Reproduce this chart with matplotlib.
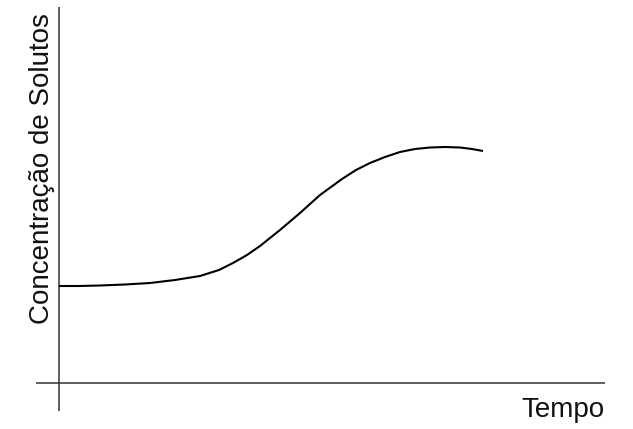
import numpy as np
import matplotlib
matplotlib.use('Agg')
import matplotlib.pyplot as plt

# dados (tempo e concentração em unidades arbitrárias)
tempo = [0, 20, 41, 66, 91, 116, 141, 160, 174, 188, 201, 221, 241, 261,
         283, 297, 311, 326, 341, 356, 371, 386, 401, 413, 424]
concentracao = [97, 97, 97.5, 98.5, 100, 103, 107, 113, 120, 128, 137, 153,
                170, 188, 204, 213, 220, 226, 231, 234, 235.5, 236, 235.5, 234, 232]

x_label = 'Tempo'
y_label = 'Concentração de Solutos'

W, H = 633, 429
fig = plt.figure(figsize=(W / 100, H / 100), dpi=100)
fig.patch.set_facecolor('white')

# eixo cobrindo a área dos traços dos eixos (em pixels: x 36..605, y 7..411)
ax = fig.add_axes([36 / W, 1 - 411 / H, (605 - 36) / W, (411 - 7) / H])
ax.set_xlim(-23, 546)
ax.set_ylim(-28, 376)
ax.axis('off')

ax.axhline(0, color='#333333', lw=1.1)
ax.axvline(0, color='#333333', lw=1.1)

ax.plot(tempo, concentracao, color='black', lw=1.5, solid_capstyle='butt',
        solid_joinstyle='round')

fig.text(605 / W, 1 - 417 / H, x_label, ha='right', va='baseline',
         fontsize=20, family=['Liberation Sans', 'DejaVu Sans'], color='#111111')
fig.text(49 / W, 1 - 169 / H, y_label, rotation=90, rotation_mode='anchor',
         ha='center', va='baseline',
         fontsize=20, family=['Liberation Sans', 'DejaVu Sans'], color='#111111')

plt.savefig('out.png', dpi=100)
plt.close()
